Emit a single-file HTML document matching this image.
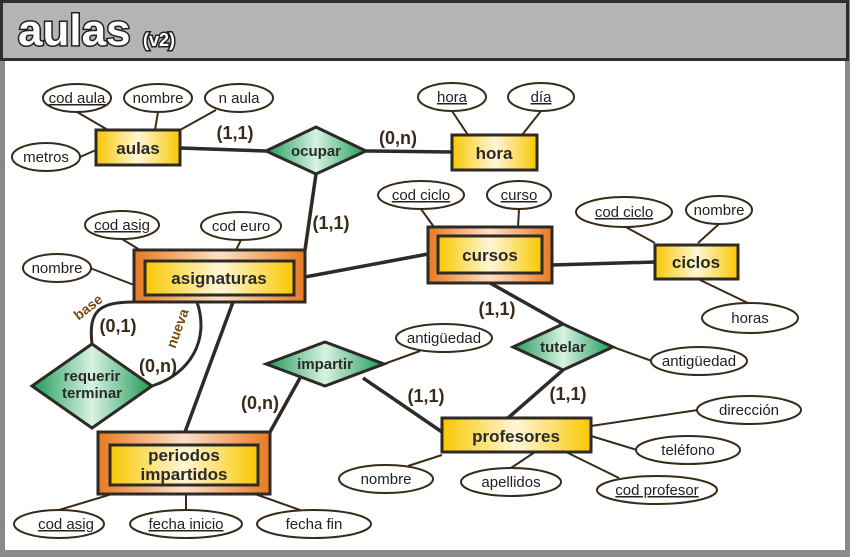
<!DOCTYPE html>
<html><head><meta charset="utf-8"><style>
html,body{margin:0;padding:0;background:#8a8a8a;}
svg{display:block;}
text{font-family:"Liberation Sans","DejaVu Sans",sans-serif;}
.a{font-size:15px;fill:#222;text-anchor:middle;}
.e{font-size:17px;font-weight:bold;fill:#2a2a2a;text-anchor:middle;}
.c{font-size:18px;font-weight:bold;fill:#3a2a1a;text-anchor:middle;}
.l{stroke:#3a2a1a;stroke-width:2;fill:none;}
.L{stroke:#2e2a26;stroke-width:4;fill:none;}
ellipse{fill:#fff;stroke:#3a2a1a;stroke-width:2;}
</style></head><body>
<svg width="850" height="557" viewBox="0 0 850 557" xmlns="http://www.w3.org/2000/svg">
<defs>
<linearGradient id="y" x1="0" x2="1"><stop offset="0" stop-color="#f8c800"/><stop offset="0.5" stop-color="#fff6d8"/><stop offset="1" stop-color="#f8c800"/></linearGradient>
<linearGradient id="o" x1="0" x2="1"><stop offset="0" stop-color="#e87a20"/><stop offset="0.5" stop-color="#fbe0c8"/><stop offset="1" stop-color="#e87a20"/></linearGradient>
<linearGradient id="g" x1="0" x2="1"><stop offset="0" stop-color="#1e9a58"/><stop offset="0.5" stop-color="#d8f2e2"/><stop offset="1" stop-color="#1e9a58"/></linearGradient>
</defs>
<rect x="0" y="0" width="850" height="557" fill="#8a8a8a"/>
<rect x="5" y="60" width="840" height="490" fill="#fff"/>
<rect x="1.5" y="1.5" width="846" height="58" fill="#b3b4b3" stroke="#2e2e2e" stroke-width="3"/>
<text x="18" y="45" style="font-size:44px;font-weight:bold;fill:#fff;stroke:#222;stroke-width:3;paint-order:stroke;">aulas</text>
<text x="143" y="46" style="font-size:18px;font-weight:bold;fill:#fff;stroke:#222;stroke-width:3;paint-order:stroke;">(v2)</text>

<g class="l">
<line x1="77" y1="112" x2="108" y2="130"/><line x1="158" y1="112" x2="155" y2="130"/><line x1="216" y1="110" x2="180" y2="130"/><line x1="80" y1="157" x2="96" y2="150"/>
<line x1="452" y1="111" x2="468" y2="135"/><line x1="541" y1="111" x2="522" y2="135"/>
<line x1="421" y1="209" x2="434" y2="227"/><line x1="519" y1="209" x2="518" y2="227"/>
<line x1="624" y1="226" x2="655" y2="243"/><line x1="719" y1="224" x2="698" y2="243"/><line x1="698" y1="279" x2="750" y2="304"/>
<line x1="122" y1="239" x2="140" y2="250"/><line x1="241" y1="240" x2="236" y2="250"/><line x1="90" y1="268" x2="134" y2="285"/>
<line x1="59" y1="510" x2="112" y2="494"/><line x1="186" y1="510" x2="186" y2="494"/><line x1="300" y1="510" x2="255" y2="494"/>
<line x1="384" y1="364" x2="420" y2="351"/><line x1="613" y1="347" x2="652" y2="361"/>
<line x1="591" y1="426" x2="698" y2="410"/><line x1="591" y1="436" x2="637" y2="450"/><line x1="566" y1="452" x2="619" y2="478"/><line x1="535" y1="452" x2="511" y2="468"/><line x1="442" y1="455" x2="408" y2="466"/>
</g>
<g class="L" style="stroke-width:3.5">
<line x1="180" y1="148" x2="266" y2="151"/><line x1="366" y1="151" x2="452" y2="152"/>
<line x1="316" y1="174" x2="305" y2="250"/>
<line x1="305" y1="277" x2="428" y2="254"/>
<line x1="552" y1="265" x2="655" y2="262"/>
<line x1="490" y1="283" x2="563" y2="324"/>
<line x1="563" y1="370" x2="508" y2="418"/>
<line x1="363" y1="378" x2="442" y2="432"/>
<line x1="300" y1="378" x2="270" y2="432"/>
<line x1="233" y1="302" x2="185" y2="432"/>
<path d="M92 344 C88 310 100 302 134 302" stroke-width="3"/>
<path d="M152 386 C190 374 210 340 197 302" stroke-width="3"/>
</g>

<rect x="96" y="130" width="84" height="35" fill="url(#y)" stroke="#2e2a26" stroke-width="3"/>
<text class="e" x="138" y="154">aulas</text>
<rect x="452" y="135" width="85" height="35" fill="url(#y)" stroke="#2e2a26" stroke-width="3"/>
<text class="e" x="494" y="159">hora</text>
<rect x="428" y="227" width="124" height="56" fill="url(#o)" stroke="#2e2a26" stroke-width="3"/>
<rect x="438" y="236" width="104" height="37" fill="url(#y)" stroke="#2e2a26" stroke-width="3"/>
<text class="e" x="490" y="261">cursos</text>
<rect x="655" y="245" width="83" height="34" fill="url(#y)" stroke="#2e2a26" stroke-width="3"/>
<text class="e" x="696" y="268">ciclos</text>
<rect x="134" y="250" width="171" height="52" fill="url(#o)" stroke="#2e2a26" stroke-width="3"/>
<rect x="145" y="261" width="149" height="34" fill="url(#y)" stroke="#2e2a26" stroke-width="3"/>
<text class="e" x="219" y="284">asignaturas</text>
<rect x="98" y="432" width="172" height="62" fill="url(#o)" stroke="#2e2a26" stroke-width="3"/>
<rect x="110" y="445" width="148" height="40" fill="url(#y)" stroke="#2e2a26" stroke-width="3"/>
<text class="e" x="184" y="461">periodos</text>
<text class="e" x="184" y="480">impartidos</text>
<rect x="442" y="418" width="149" height="34" fill="url(#y)" stroke="#2e2a26" stroke-width="3"/>
<text class="e" x="516" y="442">profesores</text>

<polygon points="266,151 316,127 366,151 316,174" fill="url(#g)" stroke="#2e2a26" stroke-width="3"/>
<text class="e" x="316" y="156" style="font-size:15px">ocupar</text>
<polygon points="32,386 92,344 152,386 92,428" fill="url(#g)" stroke="#2e2a26" stroke-width="3"/>
<text class="e" x="92" y="381" style="font-size:15px">requerir</text>
<text class="e" x="92" y="398" style="font-size:15px">terminar</text>
<polygon points="266,364 325,342 384,364 325,386" fill="url(#g)" stroke="#2e2a26" stroke-width="3"/>
<text class="e" x="325" y="369" style="font-size:15px">impartir</text>
<polygon points="513,347 563,324 613,347 563,370" fill="url(#g)" stroke="#2e2a26" stroke-width="3"/>
<text class="e" x="563" y="352" style="font-size:15px">tutelar</text>

<g>
<ellipse cx="77" cy="98" rx="34" ry="14"/><text class="a" x="77" y="103" text-decoration="underline">cod aula</text>
<ellipse cx="158" cy="98" rx="34" ry="14"/><text class="a" x="158" y="103">nombre</text>
<ellipse cx="239" cy="98" rx="34" ry="14"/><text class="a" x="239" y="103">n aula</text>
<ellipse cx="46" cy="157" rx="34" ry="14"/><text class="a" x="46" y="162">metros</text>
<ellipse cx="452" cy="97" rx="34" ry="14"/><text class="a" x="452" y="102" text-decoration="underline">hora</text>
<ellipse cx="541" cy="97" rx="33" ry="14"/><text class="a" x="541" y="102" text-decoration="underline">día</text>
<ellipse cx="421" cy="195" rx="43" ry="14"/><text class="a" x="421" y="200" text-decoration="underline">cod ciclo</text>
<ellipse cx="519" cy="195" rx="32" ry="14"/><text class="a" x="519" y="200" text-decoration="underline">curso</text>
<ellipse cx="624" cy="212" rx="48" ry="15"/><text class="a" x="624" y="217" text-decoration="underline">cod ciclo</text>
<ellipse cx="719" cy="210" rx="33" ry="14"/><text class="a" x="719" y="215">nombre</text>
<ellipse cx="750" cy="318" rx="48" ry="15"/><text class="a" x="750" y="323">horas</text>
<ellipse cx="122" cy="225" rx="37" ry="14"/><text class="a" x="122" y="230" text-decoration="underline">cod asig</text>
<ellipse cx="241" cy="226" rx="40" ry="14"/><text class="a" x="241" y="231">cod euro</text>
<ellipse cx="57" cy="268" rx="34" ry="14"/><text class="a" x="57" y="273">nombre</text>
<ellipse cx="59" cy="524" rx="45" ry="14"/><text class="a" x="66" y="529" text-decoration="underline">cod asig</text>
<ellipse cx="186" cy="524" rx="56" ry="14"/><text class="a" x="186" y="529" text-decoration="underline">fecha inicio</text>
<ellipse cx="314" cy="524" rx="57" ry="14"/><text class="a" x="314" y="529">fecha fin</text>
<ellipse cx="444" cy="338" rx="48" ry="14"/><text class="a" x="444" y="343">antigüedad</text>
<ellipse cx="699" cy="361" rx="48" ry="14"/><text class="a" x="699" y="366">antigüedad</text>
<ellipse cx="749" cy="410" rx="52" ry="14"/><text class="a" x="749" y="415">dirección</text>
<ellipse cx="688" cy="450" rx="52" ry="14"/><text class="a" x="688" y="455">teléfono</text>
<ellipse cx="657" cy="490" rx="60" ry="14"/><text class="a" x="657" y="495" text-decoration="underline">cod profesor</text>
<ellipse cx="511" cy="482" rx="50" ry="14"/><text class="a" x="511" y="487">apellidos</text>
<ellipse cx="386" cy="479" rx="47" ry="14"/><text class="a" x="386" y="484">nombre</text>
</g>

<text class="c" x="235" y="139">(1,1)</text>
<text class="c" x="398" y="144">(0,n)</text>
<text class="c" x="331" y="229">(1,1)</text>
<text class="c" x="497" y="315">(1,1)</text>
<text class="c" x="426" y="402">(1,1)</text>
<text class="c" x="568" y="400">(1,1)</text>
<text class="c" x="260" y="409">(0,n)</text>
<text class="c" x="118" y="332">(0,1)</text>
<text class="c" x="158" y="372">(0,n)</text>
<text x="88" y="312" transform="rotate(-38 88 307)" style="font-size:14px;font-weight:bold;fill:#7a4a10;text-anchor:middle;">base</text>
<text x="182" y="330" transform="rotate(-70 182 330)" style="font-size:14px;font-weight:bold;fill:#7a4a10;text-anchor:middle;">nueva</text>
</svg>
</body></html>
